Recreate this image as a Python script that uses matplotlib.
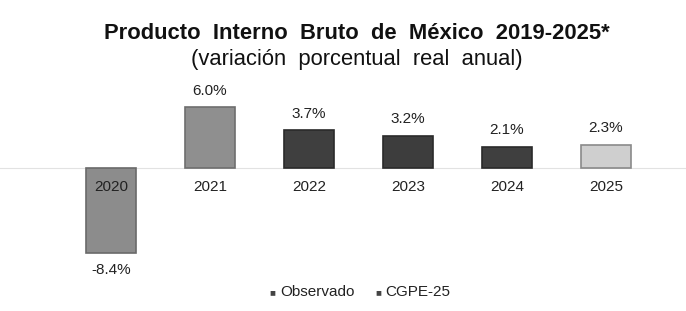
import matplotlib.pyplot as plt
import numpy as np

plt.rcParams['font.family'] = ['Liberation Sans', 'DejaVu Sans']

# datos
anios = ['2020', '2021', '2022', '2023', '2024', '2025']
valores = [-8.4, 6.0, 3.7, 3.2, 2.1, 2.3]
etiquetas = ['-8.4%', '6.0%', '3.7%', '3.2%', '2.1%', '2.3%']
colores = ['#8c8c8c', '#8f8f8f', '#3f3f3f', '#3d3d3d', '#3f3f3f', '#cfcfcf']
bordes = ['#6a6a6a', '#6e6e6e', '#2a2a2a', '#2a2a2a', '#2a2a2a', '#8a8a8a']

fig = plt.figure(figsize=(6.86, 3.11), dpi=100)
ax = fig.add_axes([0.0, 0.1334, 1.0, 0.5875])

x = np.arange(len(anios))
ax.bar(x, valores, width=0.5, color=colores, edgecolor=bordes, linewidth=1.2, zorder=2)
ax.axhline(0, color='#e2e2e2', lw=0.8, zorder=1)

for xi, v, et, a in zip(x, valores, etiquetas, anios):
    if v >= 0:
        ax.text(xi, v + 1.6, et, ha='center', va='center', fontsize=11, color='#222222')
    else:
        ax.text(xi, v - 1.6, et, ha='center', va='center', fontsize=11, color='#222222')
    ax.text(xi, -1.85, a, ha='center', va='center', fontsize=11, color='#222222')

ax.set_xlim(-1.121, 5.808)
ax.set_ylim(-10, 8)
ax.axis('off')

fig.text(0.52, 0.893, 'Producto  Interno  Bruto  de  México  2019-2025*', ha='center', va='center',
         fontsize=15.8, fontweight='bold', color='#111111')
fig.text(0.52, 0.808, '(variación  porcentual  real  anual)', ha='center', va='center',
         fontsize=15.8, color='#111111')

# leyenda
fig.text(0.397, 0.06, '■', ha='center', va='center', fontsize=7, color='#444444')
fig.text(0.408, 0.06, 'Observado', ha='left', va='center', fontsize=11, color='#222222')
fig.text(0.551, 0.06, '■', ha='center', va='center', fontsize=7, color='#444444')
fig.text(0.562, 0.06, 'CGPE-25', ha='left', va='center', fontsize=11, color='#222222')

fig.savefig('out.png', dpi=100)
